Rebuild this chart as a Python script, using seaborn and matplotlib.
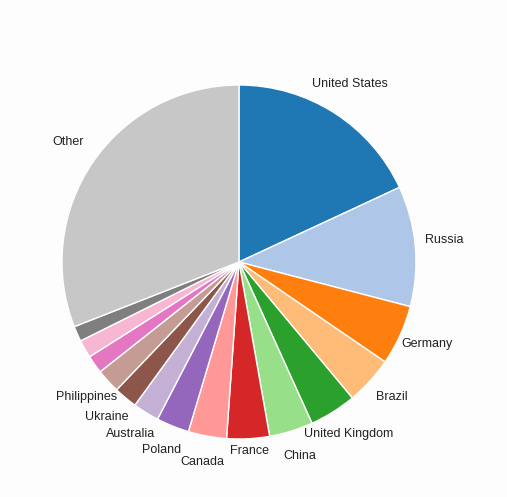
import matplotlib
matplotlib.use("Agg")
import matplotlib.pyplot as plt
import seaborn as sns

sns.set_theme(style="white")
plt.rcParams['font.family'] = ['Liberation Sans', 'DejaVu Sans']

categories = ["United States", "Russia", "Germany", "Brazil", "United Kingdom",
              "China", "France", "Canada", "Poland", "Australia", "Ukraine",
              "Philippines", "", "", "", "Other"]
values = [18.1, 11.0, 5.5, 4.4, 4.3, 4.0, 3.9, 3.5, 3.0, 2.4, 2.15, 2.2,
          1.65, 1.65, 1.4, 31.0]

colors = sns.color_palette("tab20", 16)

W, H = 507, 497
fig = plt.figure(figsize=(W / 100, H / 100), dpi=100)
fig.patch.set_facecolor("#fdfdfd")
ax = fig.add_axes([0, 0, 1, 1])
R = 177
wedges, texts = ax.pie(values, labels=categories, colors=colors,
                       startangle=90, counterclock=False,
                       center=(239, H - 262), radius=R,
                       labeldistance=1.167,
                       wedgeprops=dict(edgecolor="white", linewidth=1),
                       textprops=dict(fontsize=9, color="#222222"))
for t in texts:
    t.set_ha("center")
    t.set_va("center")
    x, y = t.get_position()
    dy = 3.5
    if t.get_text() == "France":
        dy += 14
    t.set_position((x, y + dy))
ax.set_xlim(0, W)
ax.set_ylim(0, H)
ax.set_aspect("equal")
ax.axis("off")
fig.savefig("out.png", dpi=100, facecolor=fig.get_facecolor())
